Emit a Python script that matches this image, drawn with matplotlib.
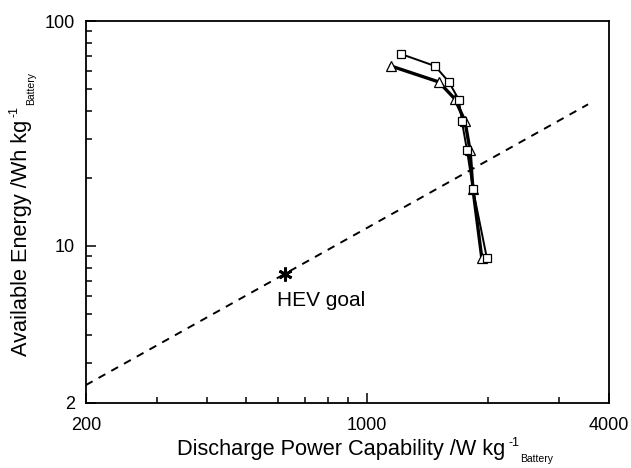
import matplotlib
matplotlib.use("Agg")
import matplotlib.pyplot as plt
from matplotlib.ticker import FixedLocator, NullFormatter, FixedFormatter
from matplotlib.transforms import IdentityTransform

plt.rcParams['font.family'] = ['Liberation Sans', 'DejaVu Sans']

# Data
sq_power = [1215, 1477, 1600, 1694, 1723, 1774, 1836, 1989]
sq_energy = [71.4, 63.1, 53.6, 44.6, 35.9, 26.7, 17.9, 8.8]
tri_power = [1148, 1510, 1656, 1754, 1805, 1836, 1932]
tri_energy = [63.1, 53.6, 45.0, 35.9, 26.7, 17.9, 8.8]
goal_power = 625
goal_energy = 7.5
goal_ratio = 83.3  # P/E ratio of HEV goal line
line_power = [200, 3550]
line_energy = [p / goal_ratio for p in line_power]

x_major = [200, 1000, 4000]
x_minor = [300, 400, 500, 600, 700, 800, 900, 2000, 3000]
y_major = [2, 10, 100]
y_minor = [3, 4, 5, 6, 7, 8, 9, 20, 30, 40, 50, 60, 70, 80, 90]

W, H = 631, 468
fig = plt.figure(figsize=(W / 100, H / 100), dpi=100)
ax = fig.add_axes([0.136, 0.139, 0.829, 0.816])
ax.set_xscale('log')
ax.set_yscale('log')
ax.set_xlim(200, 4000)
ax.set_ylim(2, 100)

ax.plot(line_power, line_energy, ls=(0, (4, 3.5)), color='black', lw=1.4)
ax.plot(tri_power, tri_energy, color='black', lw=2.4, marker='^', ms=7,
        mfc='white', mec='black', mew=0.9)
ax.plot(sq_power, sq_energy, color='black', lw=1.4, marker='s', ms=6,
        mfc='white', mec='black', mew=0.9)
ax.plot([goal_power], [goal_energy], ls='none', marker=(6, 2, 0), ms=10,
        mew=2.0, color='black')
ax.text(597, 5.74, 'HEV goal', ha='left', va='center', fontsize=15)

ax.xaxis.set_major_locator(FixedLocator(x_major))
ax.xaxis.set_major_formatter(FixedFormatter([str(v) for v in x_major]))
ax.xaxis.set_minor_locator(FixedLocator(x_minor))
ax.xaxis.set_minor_formatter(NullFormatter())
ax.yaxis.set_major_locator(FixedLocator(y_major))
ax.yaxis.set_major_formatter(FixedFormatter([str(v) for v in y_major]))
ax.yaxis.set_minor_locator(FixedLocator(y_minor))
ax.yaxis.set_minor_formatter(NullFormatter())

ax.tick_params(which='both', direction='in', labelsize=13, width=1.1)
ax.tick_params(which='major', length=7, pad=8)
ax.tick_params(axis='x', which='major', pad=10)
ax.tick_params(which='minor', length=4)
for s in ax.spines.values():
    s.set_linewidth(1.3)

# Axis labels built from pieces (main text, superscript, subscript)
ident = IdentityTransform()
xl = fig.text(177, H - 455, 'Discharge Power Capability /W kg', fontsize=15.7,
              ha='left', va='baseline', transform=ident)
yl = fig.text(27, H - 356, 'Available Energy /Wh kg', fontsize=15.7,
              rotation=90, rotation_mode='anchor', ha='left', va='baseline',
              transform=ident)
fig.canvas.draw()
r = fig.canvas.get_renderer()

bx = xl.get_window_extent(r)
sx = fig.text(bx.x1 + 3, H - 455 + 9, '-1', fontsize=9, ha='left',
              va='baseline', transform=ident)
fig.canvas.draw()
bsx = sx.get_window_extent(r)
fig.text(bsx.x1 + 1, H - 455 - 7, 'Battery', fontsize=7.5, ha='left',
         va='baseline', transform=ident)

by = yl.get_window_extent(r)
sy = fig.text(27 - 9, by.y1 + 3, '-1', fontsize=9, rotation=90,
              rotation_mode='anchor', ha='left', va='baseline', transform=ident)
fig.canvas.draw()
bsy = sy.get_window_extent(r)
fig.text(27 + 7, bsy.y1 + 1, 'Battery', fontsize=7.5, rotation=90,
         rotation_mode='anchor', ha='left', va='baseline', transform=ident)

fig.savefig('out.png', dpi=100)
